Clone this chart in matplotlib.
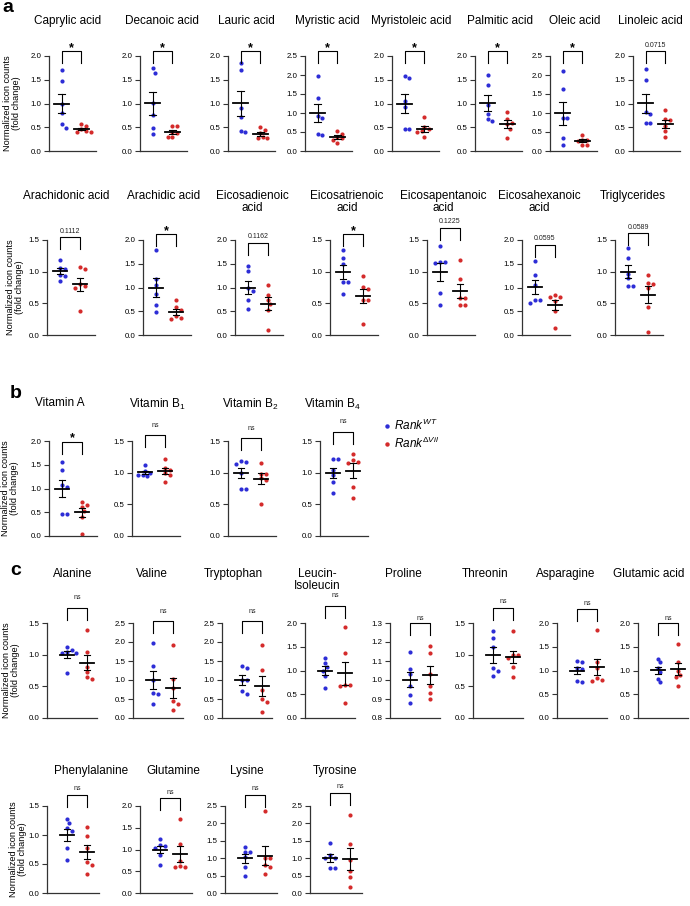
import numpy as np
import matplotlib.pyplot as plt
from matplotlib.lines import Line2D
import matplotlib.transforms as mtransforms

plt.rcParams['font.family'] = ['Liberation Sans', 'DejaVu Sans']
plt.rcParams['mathtext.fontset'] = 'custom'
plt.rcParams['mathtext.rm'] = 'Liberation Sans'
plt.rcParams['mathtext.it'] = 'Liberation Sans:italic'

W, H = 690, 906
blue = '#2d2dd6'
red = '#d42b2b'

# ---- a, fatty acids (top row)
a1_names = ['Caprylic acid', 'Decanoic acid', 'Lauric acid', 'Myristic acid',
            'Myristoleic acid', 'Palmitic acid', 'Oleic acid', 'Linoleic acid']
a1_wt = [[1.71, 1.47, 0.98, 0.79, 0.56, 0.49],
         [1.74, 1.65, 1.02, 0.76, 0.48, 0.36],
         [1.86, 1.71, 0.90, 0.72, 0.42, 0.41],
         [1.97, 1.40, 0.92, 0.88, 0.45, 0.42],
         [1.57, 1.53, 1.05, 0.93, 0.46, 0.46],
         [1.60, 1.39, 0.97, 0.78, 0.68, 0.63],
         [2.10, 1.63, 0.88, 0.87, 0.35, 0.16],
         [1.72, 1.49, 0.82, 0.78, 0.60, 0.60]]
a1_ko = [[0.57, 0.53, 0.47, 0.42, 0.40, 0.40],
         [0.53, 0.52, 0.40, 0.38, 0.30, 0.29],
         [0.51, 0.45, 0.38, 0.30, 0.28, 0.27],
         [0.53, 0.45, 0.38, 0.33, 0.29, 0.22],
         [0.71, 0.50, 0.46, 0.42, 0.40, 0.29],
         [0.83, 0.67, 0.60, 0.56, 0.47, 0.28],
         [0.43, 0.30, 0.28, 0.26, 0.17, 0.16],
         [0.86, 0.68, 0.65, 0.52, 0.42, 0.29]]
a1_p = ['*', '*', '*', '*', '*', '*', '*', '0.0715']
a1_ylim = [(0, 2.0), (0, 2.0), (0, 2.0), (0, 2.5), (0, 2.0), (0, 2.0), (0, 2.5), (0, 2.0)]

# ---- a, fatty acids (second row)
a2_names = ['Arachidonic acid', 'Arachidic acid', 'Eicosadienoic\nacid', 'Eicosatrienoic\nacid',
            'Eicosapentanoic\nacid', 'Eicosahexanoic\nacid', 'Triglycerides']
a2_wt = [[1.19, 1.06, 1.05, 0.95, 0.93, 0.85],
         [1.80, 1.17, 1.05, 0.86, 0.63, 0.49],
         [1.45, 1.35, 0.99, 0.92, 0.74, 0.55],
         [1.35, 1.21, 1.12, 0.84, 0.83, 0.64],
         [1.40, 1.16, 1.15, 1.13, 0.66, 0.48],
         [1.56, 1.27, 1.06, 0.74, 0.73, 0.67],
         [1.37, 1.21, 0.97, 0.90, 0.77, 0.77]]
a2_ko = [[1.07, 1.04, 0.80, 0.78, 0.75, 0.38],
         [0.73, 0.58, 0.52, 0.40, 0.36, 0.34],
         [1.06, 0.85, 0.74, 0.66, 0.53, 0.11],
         [0.93, 0.76, 0.72, 0.56, 0.55, 0.17],
         [1.18, 0.88, 0.58, 0.58, 0.47, 0.47],
         [0.85, 0.81, 0.79, 0.71, 0.50, 0.15],
         [0.94, 0.82, 0.80, 0.75, 0.44, 0.05]]
a2_p = ['0.1112', '*', '0.1162', '*', '0.1225', '0.0595', '0.0589']
a2_ylim = [(0, 1.5), (0, 2.0), (0, 2.0), (0, 1.5), (0, 1.5), (0, 2.0), (0, 1.5)]

# ---- b, vitamins
b_names = ['Vitamin A', 'Vitamin B$_1$', 'Vitamin B$_2$', 'Vitamin B$_4$']
b_wt = [[1.55, 1.38, 1.08, 1.04, 0.47, 0.46],
        [1.12, 1.03, 1.00, 0.97, 0.96, 0.94],
        [1.19, 1.17, 1.14, 0.99, 0.75, 0.74],
        [1.21, 1.21, 1.05, 0.96, 0.86, 0.68]]
b_ko = [[0.72, 0.65, 0.62, 0.53, 0.41, 0.05],
        [1.21, 1.08, 1.04, 0.99, 0.97, 0.86],
        [1.16, 0.98, 0.98, 0.91, 0.89, 0.51],
        [1.30, 1.20, 1.17, 1.16, 0.77, 0.60]]
b_p = ['*', 'ns', 'ns', 'ns']
b_ylim = [(0, 2.0), (0, 1.5), (0, 1.5), (0, 1.5)]

# ---- c, amino acids (first row)
c1_names = ['Alanine', 'Valine', 'Tryptophan', 'Leucin-\nIsoleucin',
            'Proline', 'Threonin', 'Asparagine', 'Glutamic acid']
c1_wt = [[1.12, 1.07, 1.05, 1.03, 1.02, 0.71],
         [1.97, 1.37, 0.99, 0.66, 0.63, 0.36],
         [1.37, 1.31, 1.00, 0.99, 0.70, 0.63],
         [1.27, 1.15, 1.07, 1.00, 0.88, 0.63],
         [1.15, 1.06, 1.03, 0.97, 0.92, 0.88],
         [1.37, 1.27, 1.12, 0.79, 0.75, 0.66],
         [1.19, 1.18, 1.06, 1.03, 0.78, 0.76],
         [1.25, 1.17, 1.05, 0.96, 0.83, 0.75]]
c1_ko = [[1.39, 1.05, 0.80, 0.72, 0.65, 0.62],
         [1.93, 1.02, 0.78, 0.45, 0.38, 0.20],
         [1.92, 1.27, 0.73, 0.50, 0.43, 0.16],
         [1.92, 1.36, 0.69, 0.69, 0.67, 0.32],
         [1.18, 1.14, 1.03, 0.97, 0.93, 0.90],
         [1.38, 1.00, 0.99, 0.95, 0.81, 0.65],
         [1.86, 1.18, 1.05, 0.84, 0.80, 0.77],
         [1.56, 1.17, 0.99, 0.91, 0.87, 0.68]]
c1_p = ['ns'] * 8
c1_ylim = [(0, 1.5), (0, 2.5), (0, 2.5), (0, 2.0), (0.8, 1.3), (0, 1.5), (0, 2.0), (0, 2.0)]

# ---- c, amino acids (second row)
c2_names = ['Phenylalanine', 'Glutamine', 'Lysine', 'Tyrosine']
c2_wt = [[1.27, 1.20, 1.12, 1.07, 0.78, 0.57],
         [1.24, 1.10, 1.08, 1.03, 0.88, 0.65],
         [1.32, 1.19, 1.19, 1.03, 0.76, 0.50],
         [1.43, 1.10, 1.02, 1.00, 0.73, 0.73]]
c2_ko = [[1.13, 0.99, 0.78, 0.54, 0.48, 0.32],
         [1.70, 1.12, 0.74, 0.62, 0.60, 0.59],
         [2.35, 1.02, 1.00, 0.80, 0.75, 0.54],
         [2.25, 1.41, 0.95, 0.62, 0.45, 0.17]]
c2_p = ['ns'] * 4
c2_ylim = [(0, 1.5), (0, 2.0), (0, 2.5), (0, 2.5)]

# layout (pixels)
rows = [
    dict(names=a1_names, wt=a1_wt, ko=a1_ko, p=a1_p, ylim=a1_ylim,
         lefts=[49, 140, 228, 305, 392, 475, 550, 633], top=56, bot=151, w=47,
         xlim=(-0.65, 1.75), brk=[1.05] * 8, toff=[6] * 8, ty=20, lab=21,
         tx=[68, 162, 246, 327, 411, 500, 575, 650]),
    dict(names=a2_names, wt=a2_wt, ko=a2_ko, p=a2_p, ylim=a2_ylim,
         lefts=[47, 143, 235, 330, 427, 522, 615], top=240, bot=335, w=48,
         xlim=(-0.65, 1.75), brk=[1.03, 1.06, 0.97, 1.06, 1.13, 0.95, 1.07],
         toff=[6] * 7, ty=195, lab=24,
         tx=[66, 164, 252, 347, 443, 539, 633]),
    dict(names=b_names, wt=b_wt, ko=b_ko, p=b_p, ylim=b_ylim,
         lefts=[49, 132, 228, 320], top=441, bot=536, w=48,
         xlim=(-0.65, 1.75), brk=[0.99, 1.06, 1.03, 1.10], toff=[5, 10, 10, 10], ty=402, lab=19,
         tx=[60, 157, 250, 332]),
    dict(names=c1_names, wt=c1_wt, ko=c1_ko, p=c1_p, ylim=c1_ylim,
         lefts=[47, 133, 222, 305, 390, 473, 557, 638], top=623, bot=718, w=50,
         xlim=(-1.0, 1.5), brk=[1.16, 1.02, 1.02, 1.18, 1.0, 1.16, 1.15, 1.0],
         toff=[10, 10, 10, 10, 5, 6, 5, 5], ty=573, lab=20,
         tx=[73, 152, 233, 317, 403, 485, 566, 649]),
    dict(names=c2_names, wt=c2_wt, ko=c2_ko, p=c2_p, ylim=c2_ylim,
         lefts=[47, 140, 225, 310], top=806, bot=893, w=52,
         xlim=(-1.0, 1.6), brk=[1.13, 1.09, 1.13, 1.15], toff=[6] * 4, ty=770, lab=27,
         tx=[91, 173, 247, 335]),
]


def swarm(ypx, d=4.6):
    placed = []
    out = []
    cands = [0]
    for k in range(1, 8):
        cands += [k * d / 2, -k * d / 2]
    for y in ypx:
        for c in cands:
            if all((c - xj) ** 2 + (y - yj) ** 2 >= d * d * 0.9 for xj, yj in placed):
                break
        placed.append((c, y))
        out.append(c)
    return np.array(out)


fig = plt.figure(figsize=(W / 100, H / 100), dpi=100)

for row in rows:
    axh = row['bot'] - row['top']
    x0, x1 = row['xlim']
    upx = row['w'] / (x1 - x0)
    for j, name in enumerate(row['names']):
        left = row['lefts'][j]
        ax = fig.add_axes([left / W, 1 - row['bot'] / H, row['w'] / W, axh / H])
        ylo, yhi = row['ylim'][j]
        for i, (vals, col) in enumerate([(row['wt'][j], blue), (row['ko'][j], red)]):
            v = np.array(vals)
            ypx = (v - ylo) / (yhi - ylo) * axh
            xs = i + swarm(ypx) / upx
            ax.scatter(xs, v, s=9, color=col, linewidths=0, zorder=2)
            m = v.mean()
            se = v.std(ddof=1) / np.sqrt(len(v))
            ax.plot([i - 0.37, i + 0.37], [m, m], color='k', lw=1.3, zorder=3)
            ax.plot([i, i], [m - se, m + se], color='k', lw=0.8, zorder=3)
            for e in (m - se, m + se):
                ax.plot([i - 0.17, i + 0.17], [e, e], color='k', lw=0.8, zorder=3)
        ax.set_xlim(x0, x1)
        ax.set_ylim(ylo, yhi)
        step = 0.1 if yhi - ylo < 1 else 0.5
        ticks = np.arange(ylo, yhi + 1e-6, step)
        ax.set_yticks(ticks)
        ax.set_yticklabels(['%.1f' % t for t in ticks])
        ax.set_xticks([])
        for s in ['top', 'right']:
            ax.spines[s].set_visible(False)
        for s in ['left', 'bottom']:
            ax.spines[s].set_color('#333333')
            ax.spines[s].set_linewidth(0.9)
        ax.tick_params(axis='y', length=3.5, width=0.8, color='#333333', labelsize=5.7, pad=2)
        ax.patch.set_alpha(0)

        # significance bracket
        tr = mtransforms.blended_transform_factory(ax.transData, ax.transAxes)
        bt = row['brk'][j]
        drop = 12 / axh
        ax.plot([0, 0, 1, 1], [bt - drop, bt, bt, bt - drop], transform=tr,
                color='k', lw=0.8, clip_on=False)
        lbl = row['p'][j]
        if lbl == '*':
            ax.text(0.5, bt + 3.5 / axh, '*', transform=tr, ha='center', va='center',
                    fontsize=9, fontweight='bold')
        else:
            ax.text(0.5, bt + row['toff'][j] / axh, lbl, transform=tr, ha='center',
                    va='center', fontsize=5, color='#222222')

        # title
        fig.text(row['tx'][j] / W, 1 - (row['ty'] - 5) / H, name, ha='center', va='top',
                 fontsize=8.5, linespacing=0.95)

        if j == 0:
            ax.set_ylabel('Normalized icon counts\n(fold change)', fontsize=6.6, linespacing=1.05)
            ax.yaxis.set_label_coords((row['lab'] - left) / row['w'], 0.5)

# panel letters
fig.text(2 / W, 1 - 12 / H, 'a', fontsize=14, fontweight='bold', va='baseline')
fig.text(10 / W, 1 - 398 / H, 'b', fontsize=14, fontweight='bold', va='baseline')
fig.text(10 / W, 1 - 575 / H, 'c', fontsize=14, fontweight='bold', va='baseline')

# legend
handles = [Line2D([], [], ls='', marker='o', ms=3.2, mec='none', mfc=blue),
           Line2D([], [], ls='', marker='o', ms=3.2, mec='none', mfc=red)]
fig.legend(handles, [r'$\mathit{Rank}^{\mathit{WT}}$', r'$\mathit{Rank}^{\mathit{\Delta Vil}}$'],
           loc='upper left', bbox_to_anchor=(381 / W, 1 - 418 / H), frameon=False,
           fontsize=8.5, handletextpad=0.1, handlelength=1.0, labelspacing=0.2,
           borderpad=0, borderaxespad=0)

fig.savefig('out.png', dpi=100)
